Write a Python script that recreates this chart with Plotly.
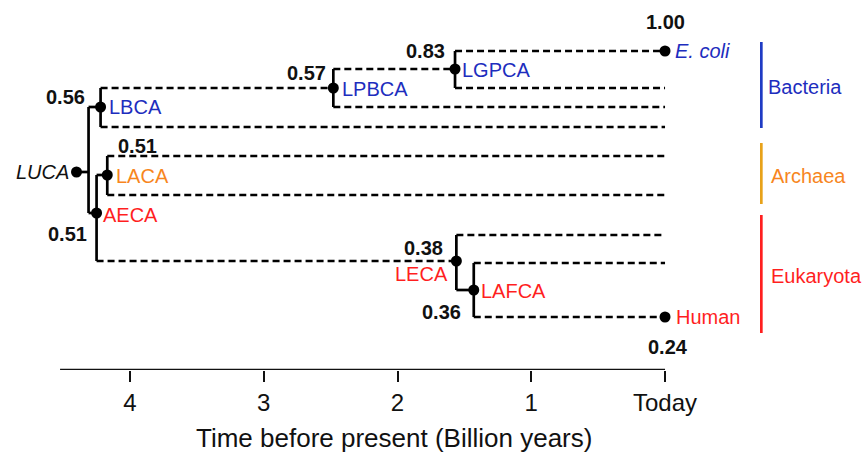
import plotly.graph_objects as go

# ---- data -------------------------------------------------------------
# node name, age (billion years before present), row position, label colour
node_names = ["LUCA", "LBCA", "AECA", "LACA", "LPBCA", "LGPCA", "LECA", "LAFCA", "E. coli", "Human"]
node_ages = [4.40, 4.22, 4.25, 4.17, 2.48, 1.57, 1.56, 1.43, 0.0, 0.0]
node_rows = [172, 107, 213, 175, 88, 69, 261, 290, 51, 317]
node_colors = ["#111111", "#1D2DBE", "#FF1F1F", "#F7861E", "#1D2DBE", "#1D2DBE",
               "#FF1F1F", "#FF1F1F", "#1D2DBE", "#FF1F1F"]
node_scores = [None, "0.56", "0.51", "0.51", "0.57", "0.83", "0.38", "0.36", "1.00", "0.24"]

# split point of the root (where LUCA's stem meets its vertical)
root_split_age = 4.31

# parent -> child edges: (parent, child age, child row, dashed?)
edge_parent = ["LUCA", "LUCA", "LBCA", "LBCA", "LPBCA", "LPBCA", "LGPCA", "LGPCA",
               "AECA", "AECA", "LACA", "LACA", "LECA", "LECA", "LAFCA", "LAFCA"]
edge_child_age = [4.22, 4.25, 2.48, 0.0, 1.57, 0.0, 0.0, 0.0,
                  4.17, 1.56, 0.0, 0.0, 0.0, 1.43, 0.0, 0.0]
edge_child_row = [107, 213, 88, 127, 69, 107, 51, 88,
                  175, 261, 156, 195, 235, 290, 263, 317]
edge_dashed = [False, False, True, True, True, True, True, True,
               False, True, True, True, True, False, True, True]

# clades on the right
group_names = ["Bacteria", "Archaea", "Eukaryota"]
group_top = [42, 143, 215]
group_bottom = [128, 204, 333]
group_bar_colors = ["#1F3BC4", "#E8A21A", "#FF1F1F"]
group_text_colors = ["#1D2DBE", "#F7861E", "#FF1F1F"]
group_bar_age = -0.72

tick_values = [4, 3, 2, 1, 0]
tick_labels = ["4", "3", "2", "1", "Today"]
axis_start_age = 4.523
x_title = "Time before present (Billion years)"

FONT = "Liberation Sans, Arial, sans-serif"
LW = 2.7
ROW_MAX = 370  # bottom of the tree area, where the time axis sits

# ---- geometry ---------------------------------------------------------
age = dict(zip(node_names, node_ages))
row = dict(zip(node_names, node_rows))
split = dict(age)
split["LUCA"] = root_split_age

solid_x, solid_y, dash_x, dash_y = [], [], [], []

# root stem
solid_x += [age["LUCA"], root_split_age, None]
solid_y += [row["LUCA"], row["LUCA"], None]

# vertical extent of each parent spans all its children rows
children_rows = {}
for p, r in zip(edge_parent, edge_child_row):
    children_rows.setdefault(p, []).append(r)
for p, rows in children_rows.items():
    solid_x += [split[p], split[p], None]
    solid_y += [min(rows), max(rows), None]

for p, ca, cr, d in zip(edge_parent, edge_child_age, edge_child_row, edge_dashed):
    if d:
        dash_x += [split[p], ca, None]
        dash_y += [cr, cr, None]
    else:
        solid_x += [split[p], ca, None]
        solid_y += [cr, cr, None]

fig = go.Figure()
fig.add_trace(go.Scatter(x=dash_x, y=dash_y, mode="lines",
                         line=dict(color="black", width=LW, dash="7px,4px"),
                         hoverinfo="skip", showlegend=False))
fig.add_trace(go.Scatter(x=solid_x, y=solid_y, mode="lines",
                         line=dict(color="black", width=LW),
                         hoverinfo="skip", showlegend=False))
fig.add_trace(go.Scatter(x=node_ages, y=node_rows, mode="markers",
                         marker=dict(color="black", size=11),
                         text=node_names, hoverinfo="text", showlegend=False))

# clade bars
for name, top, bot, col in zip(group_names, group_top, group_bottom, group_bar_colors):
    fig.add_trace(go.Scatter(x=[group_bar_age, group_bar_age], y=[top, bot], mode="lines",
                             line=dict(color=col, width=LW), hoverinfo="skip",
                             showlegend=False))

# ---- labels -----------------------------------------------------------
# (xanchor, xshift, yshift) for names, relative to each node
name_place = {
    "LUCA": ("right", -6, 0), "LBCA": ("left", 6, 0), "AECA": ("left", 4, -2),
    "LACA": ("left", 7, -1), "LPBCA": ("left", 7, -1), "LGPCA": ("left", 5, -1),
    "LECA": ("right", -6, -13), "LAFCA": ("left", 5, -1),
    "E. coli": ("left", 8, 0), "Human": ("left", 9, 0),
}
score_place = {
    "LBCA": (-35, 10), "AECA": (-29, -21), "LACA": (30, 29), "LPBCA": (-27, 15),
    "LGPCA": (-30, 18), "LECA": (-33, 13), "LAFCA": (-32, -22),
    "E. coli": (0, 29), "Human": (3, -30),
}
italic = {"LUCA", "E. coli"}

annotations = []
for n, a, r, c, s in zip(node_names, node_ages, node_rows, node_colors, node_scores):
    xa, xs, ys = name_place[n]
    txt = f"<i>{n}</i>" if n in italic else n
    annotations.append(dict(x=a, y=r, xref="x", yref="y", text=txt, showarrow=False,
                            xanchor=xa, yanchor="middle", xshift=xs, yshift=ys,
                            font=dict(family=FONT, size=20, color=c)))
    if s is not None:
        sx, sy = score_place[n]
        annotations.append(dict(x=a, y=r, xref="x", yref="y", text=f"<b>{s}</b>",
                                showarrow=False, xanchor="center", yanchor="middle",
                                xshift=sx, yshift=sy,
                                font=dict(family=FONT, size=20, color="#111111")))

for name, top, bot, col in zip(group_names, group_top, group_bottom, group_text_colors):
    annotations.append(dict(x=group_bar_age, y=(top + bot) / 2, xref="x", yref="y",
                            text=name, showarrow=False, xanchor="left", yanchor="middle",
                            xshift=5 if name == "Bacteria" else 8, yshift=-2,
                            font=dict(family=FONT, size=20, color=col)))

# axis title below the tick labels
annotations.append(dict(x=2.03, y=-68 / ROW_MAX, xref="x", yref="paper", text=x_title,
                        showarrow=False, xanchor="center", yanchor="middle",
                        font=dict(family=FONT, size=26, color="#111111")))

fig.update_layout(
    width=867, height=454,
    margin=dict(l=0, r=0, t=0, b=454 - ROW_MAX),
    paper_bgcolor="white", plot_bgcolor="white",
    annotations=annotations,
    shapes=[dict(type="line", xref="x", yref="y", x0=axis_start_age, x1=0,
                 y0=ROW_MAX, y1=ROW_MAX, line=dict(color="#111111", width=2.5))],
    xaxis=dict(range=[4.972, -1.510], showgrid=False, zeroline=False, showline=False,
               tickmode="array", tickvals=tick_values, ticktext=tick_labels,
               ticks="outside", ticklen=11, tickwidth=2, tickcolor="#111111",
               tickfont=dict(family=FONT, size=24, color="#111111"), fixedrange=True),
    yaxis=dict(range=[ROW_MAX, 0], visible=False, fixedrange=True),
)

fig.write_html("out.html")
